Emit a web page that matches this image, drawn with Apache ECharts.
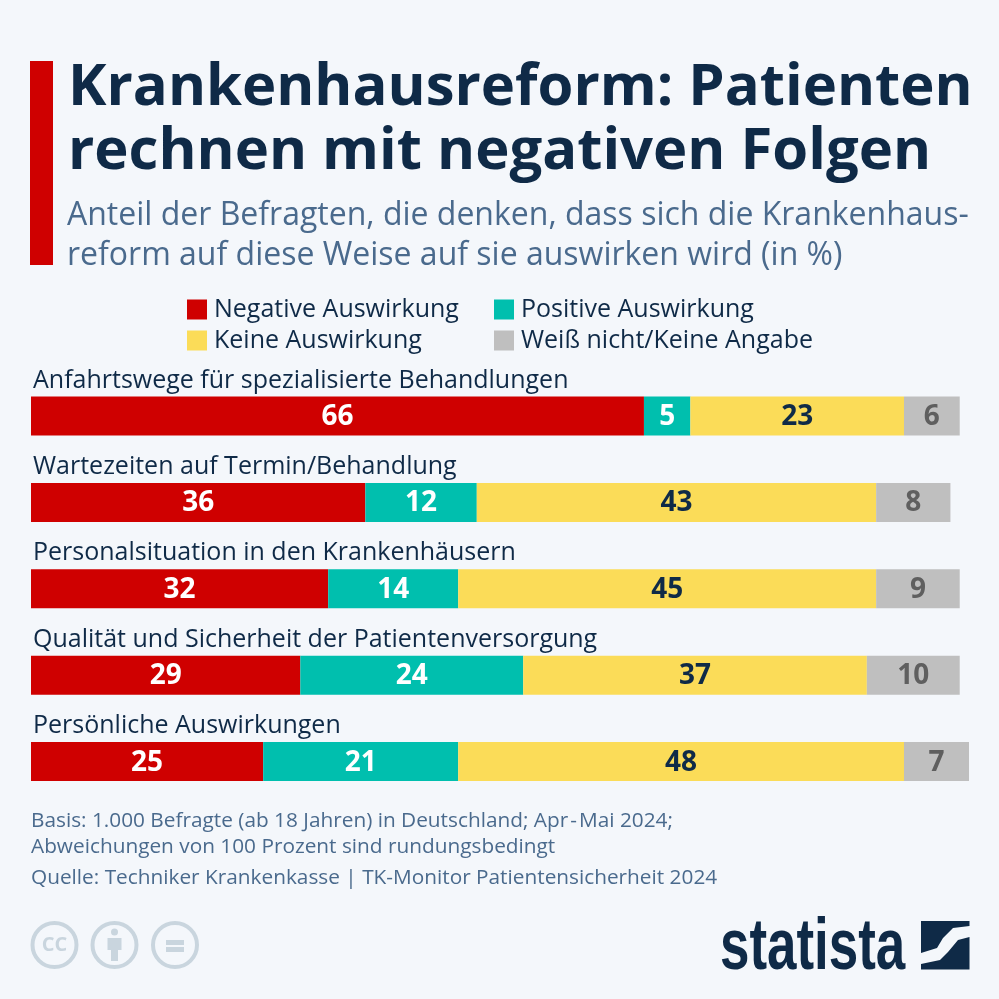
<!DOCTYPE html>
<html><head><meta charset="utf-8">
<style>html,body{margin:0;padding:0;background:#f4f7fb}#c{width:999px;height:999px}</style>
<script src="https://cdn.jsdelivr.net/npm/echarts@6/dist/echarts.min.js"></script>
</head><body><div id="c"></div>
<script>
const categories = ['Anfahrtswege für spezialisierte Behandlungen','Wartezeiten auf Termin/Behandlung','Personalsituation in den Krankenhäusern','Qualität und Sicherheit der Patientenversorgung','Persönliche Auswirkungen'];
const negative = [66,36,32,29,25];
const positive = [5,12,14,24,21];
const keine = [23,43,45,37,48];
const weissNicht = [6,8,9,10,7];
const seriesNames = ['Negative Auswirkung','Positive Auswirkung','Keine Auswirkung','Weiß nicht/Keine Angabe'];
const F = '"Open Sans"';
const navy = '#0f2a47', slate = '#4a6a8d', ccCol = '#c9d5de';
const chart = echarts.init(document.getElementById('c'), null, {renderer:'canvas'});
function s(name, data, color, labelColor){
  return {name, type:'bar', stack:'t', data, barWidth:39, itemStyle:{color},
    label:{show:true, position:'inside', offset:[0,1], color:labelColor, fontFamily:F, fontWeight:700, fontSize:28}};
}
function leg(name,left,top){
  return {data:[name], left, top, itemWidth:20, itemHeight:20, padding:0, icon:'rect',
    textStyle:{color:navy, fontFamily:F, fontSize:25, padding:[0,0,3,2]}, selectedMode:false};
}
function t(text,x,y,size,color,weight,extra){
  return Object.assign({type:'text', x, y, silent:true, style:{text, fontFamily:F, fontSize:size, fill:color, fontWeight:weight||400, verticalAlign:'middle', align:'left'}}, extra||{});
}
chart.setOption({
  animation:false,
  backgroundColor:'#f4f7fb',
  grid:{left:31, top:372.8, width:938, height:432, containLabel:false},
  xAxis:{type:'value', min:0, max:101, show:false},
  yAxis:{type:'category', data:categories, inverse:true,
    axisLine:{show:false}, axisTick:{show:false},
    axisLabel:{inside:true, margin:2, align:'left', verticalAlign:'bottom', padding:[0,0,23,0],
      color:navy, fontFamily:F, fontSize:25}},
  legend:[leg(seriesNames[0],187,297),leg(seriesNames[1],494,297),leg(seriesNames[2],187,328),leg(seriesNames[3],494,328)],
  series:[s(seriesNames[0],negative,'#cf0000','#ffffff'),
          s(seriesNames[1],positive,'#00bfae','#ffffff'),
          s(seriesNames[2],keine,'#fbdc58',navy),
          s(seriesNames[3],weissNicht,'#bfbfbf','#5f5f5f')],
  graphic:[
    {type:'rect', shape:{x:30,y:61,width:23,height:204}, style:{fill:'#cf0000'}, silent:true},
    t('Krankenhausreform: Patienten',68,88,58,navy,700),
    t('rechnen mit negativen Folgen',68,152,58,navy,700),
    t('Anteil der Befragten, die denken, dass sich die Krankenhaus-',67,216,32,slate),
    t('reform auf diese Weise auf sie auswirken wird (in %)',67,256,32,slate),
    t('Basis: 1.000 Befragte (ab 18 Jahren) in Deutschland; Apr\u200a-\u200aMai 2024;',31,821,20.8,slate),
    t('Abweichungen von 100 Prozent sind rundungsbedingt',31,847,20.8,slate),
    t('Quelle: Techniker Krankenkasse | TK-Monitor Patientensicherheit 2024',31,878,20.8,slate),
    {type:'circle', shape:{cx:54.5,cy:945,r:22}, style:{fill:'none',stroke:ccCol,lineWidth:4}, silent:true},
    {type:'circle', shape:{cx:114.5,cy:945,r:22}, style:{fill:'none',stroke:ccCol,lineWidth:4}, silent:true},
    {type:'circle', shape:{cx:175,cy:945,r:22}, style:{fill:'none',stroke:ccCol,lineWidth:4}, silent:true},
    {type:'text', x:54.5, y:945, silent:true, style:{text:'CC', fontFamily:F, fontWeight:700, fontSize:20, fill:ccCol, align:'center', verticalAlign:'middle'}},
    {type:'circle', shape:{cx:114.5,cy:932,r:3.5}, style:{fill:ccCol}, silent:true},
    {type:'rect', shape:{x:107.5,y:938,width:14,height:12}, style:{fill:ccCol}, silent:true},
    {type:'rect', shape:{x:111,y:950,width:7,height:11}, style:{fill:ccCol}, silent:true},
    {type:'rect', shape:{x:166,y:940,width:18,height:5}, style:{fill:ccCol}, silent:true},
    {type:'rect', shape:{x:166,y:947,width:18,height:5}, style:{fill:ccCol}, silent:true},
    {type:'text', x:720, y:985, scaleX:0.735, scaleY:1, silent:true, style:{text:'statista', fontFamily:'"Liberation Sans"', fontWeight:700, fontSize:72, fill:navy, align:'left', verticalAlign:'bottom'}},
    {type:'polygon', shape:{points:[[921,921],[969.5,921],[969.5,926],[953,928],[943,938],[937,948],[921,953]]}, style:{fill:navy}, silent:true},
    {type:'polygon', shape:{points:[[969.5,937],[958,940],[948,952],[940,960],[921,964],[921,969.5],[969.5,969.5]]}, style:{fill:navy}, silent:true}
  ]
});
</script></body></html>
